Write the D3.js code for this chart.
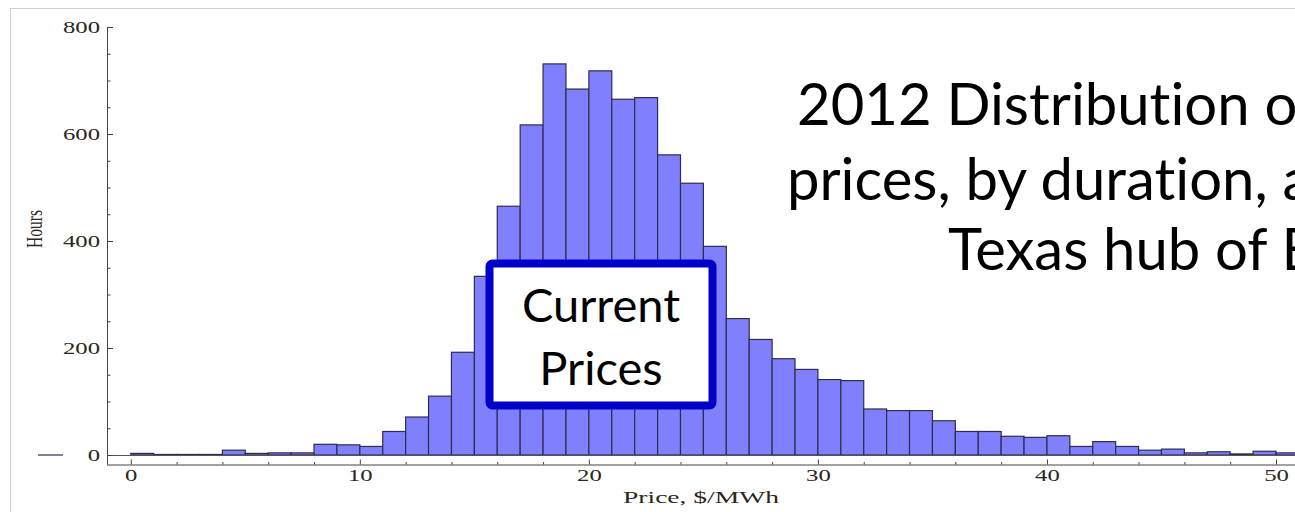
<!DOCTYPE html>
<html>
<head>
<meta charset="utf-8">
<script src="https://cdn.jsdelivr.net/npm/d3@7"></script>
<style>
  html, body { margin: 0; padding: 0; background: #fff; overflow: hidden; }
  svg { display: block; }
  text { font-variant-ligatures: none; }
</style>
</head>
<body>
<svg width="1295" height="512"></svg>
<script>
// price bins (lower edge, $/MWh, width 1)
const priceBins = [0,1,2,3,4,5,6,7,8,9,10,11,12,13,14,15,16,17,18,19,20,21,22,23,24,25,
  26,27,28,29,30,31,32,33,34,35,36,37,38,39,40,41,42,43,44,45,46,47,48,49,50];
// hours in each bin
const hours = [3,1,1,1,9,3,4,4,20,19,16,44,71,110,192,334,465,617,731,684,718,665,668,561,508,390,
  255,216,180,160,141,139,86,83,83,64,44,44,35,33,36,16,25,16,9,11,4,6,2,7,4];

const yTicks = [0, 200, 400, 600, 800];
const yMinor = [50,100,150,250,300,350,450,500,550,650,700,750];
const xTicks = [0, 10, 20, 30, 40, 50];
const xMinor = [2,4,6,8,12,14,16,18,22,24,26,28,32,34,36,38,42,44,46,48];

const titleLines = ["2012 Distribution of", "prices, by duration, at the", "Texas hub of ERCOT"];
const boxLines = ["Current", "Prices"];

const svg = d3.select("svg");

// x & y scales
const x = d3.scaleLinear().domain([0, 50]).range([130.8, 1276]);
const y = d3.scaleLinear().domain([0, 800]).range([455, 27]);

const frameLeft = 107, frameBottom = 464.5;
const serif = "'Liberation Serif', 'Times New Roman', serif";
const stretch = 1.5; // the original plot was stretched sideways

// page border
svg.append("rect")
  .attr("x", 10.5).attr("y", 8.5)
  .attr("width", 1400).attr("height", 600)
  .attr("fill", "none").attr("stroke", "#cfcfcf");

// stray dash at left
svg.append("line")
  .attr("x1", 38).attr("x2", 63).attr("y1", y(0)).attr("y2", y(0))
  .attr("stroke", "#3a3f5a").attr("stroke-width", 1.3);

// bars
svg.selectAll(".bar")
  .data(priceBins)
  .enter()
  .append("rect")
  .attr("class", "bar")
  .attr("x", (d) => x(d))
  .attr("y", (d, i) => y(hours[i]))
  .attr("width", (d) => x(d + 1) - x(d))
  .attr("height", (d, i) => y(0) - y(hours[i]))
  .attr("fill", "#8080ff")
  .attr("stroke", "#2d2d4d")
  .attr("stroke-width", 1.2);

// zero line
svg.append("line")
  .attr("x1", frameLeft).attr("x2", 1295)
  .attr("y1", y(0) + 0.5).attr("y2", y(0) + 0.5)
  .attr("stroke", "#555").attr("stroke-width", 1);

// y axis (ticks inward)
const yAxis = svg.append("g")
  .attr("transform", `translate(${frameLeft},0)`)
  .call(d3.axisLeft(y).tickValues(yTicks).tickSize(-6).tickPadding(7));
svg.append("g")
  .attr("transform", `translate(${frameLeft},0)`)
  .call(d3.axisLeft(y).tickValues(yMinor).tickSize(-3.5).tickFormat(""))
  .call((g) => g.select(".domain").remove());

yAxis.select(".domain").attr("stroke", "#444")
  .attr("d", `M0.5,${y(800)}V${frameBottom}`);
yAxis.selectAll(".tick text")
  .attr("x", 0).attr("dy", "0.36em")
  .attr("transform", `translate(-7,0) scale(${stretch},1)`)
  .attr("font-family", serif).attr("font-size", 16.5)
  .attr("fill", "#2b2620");

// x axis frame at bottom (ticks upward)
const xAxis = svg.append("g")
  .attr("transform", `translate(0,${frameBottom})`)
  .call(d3.axisBottom(x).tickValues(xTicks).tickSize(-5).tickPadding(6));
svg.append("g")
  .attr("transform", `translate(0,${frameBottom})`)
  .call(d3.axisBottom(x).tickValues(xMinor).tickSize(-2.5).tickFormat(""))
  .call((g) => g.select(".domain").remove());

xAxis.select(".domain").attr("stroke", "#444").attr("d", `M${frameLeft},0.5H1295`);
xAxis.selectAll(".tick text")
  .attr("y", 0).attr("dy", "0")
  .attr("transform", `translate(0,16.5) scale(${stretch},1)`)
  .attr("font-family", serif).attr("font-size", 16.5)
  .attr("fill", "#2b2620");
svg.selectAll(".tick line").attr("stroke", "#444");

// axis titles
svg.append("text")
  .attr("transform", `translate(701,503) scale(1.62,1)`)
  .attr("text-anchor", "middle")
  .attr("font-family", serif).attr("font-size", 17)
  .attr("fill", "#2b2620")
  .text("Price, $/MWh");

svg.append("text")
  .attr("transform", `translate(42,229) scale(${stretch},1) rotate(-90)`)
  .attr("text-anchor", "middle")
  .attr("font-family", serif).attr("font-size", 15.5)
  .attr("fill", "#2b2620")
  .text("Hours");

// title overlay (runs off the right edge)
const titleX = [797, 787, 948];
const titleY = [125, 200, 270];
svg.selectAll(".title")
  .data(titleLines)
  .enter()
  .append("text")
  .attr("class", "title")
  .attr("x", (d, i) => titleX[i])
  .attr("y", (d, i) => titleY[i])
  .attr("font-family", "Lato, 'Open Sans', sans-serif")
  .attr("font-size", 58)
  .attr("fill", "#000")
  .text((d) => d);

// "Current Prices" box
svg.append("rect")
  .attr("x", 489.5).attr("y", 263.5)
  .attr("width", 223).attr("height", 142)
  .attr("rx", 3)
  .attr("fill", "#fff")
  .attr("stroke", "#0000c8")
  .attr("stroke-width", 8);

svg.selectAll(".boxlabel")
  .data(boxLines)
  .enter()
  .append("text")
  .attr("class", "boxlabel")
  .attr("x", 601)
  .attr("y", (d, i) => 322 + i * 63)
  .attr("text-anchor", "middle")
  .attr("font-family", "Lato, 'Open Sans', sans-serif")
  .attr("font-size", 47)
  .attr("fill", "#000")
  .text((d) => d);
</script>
</body>
</html>
